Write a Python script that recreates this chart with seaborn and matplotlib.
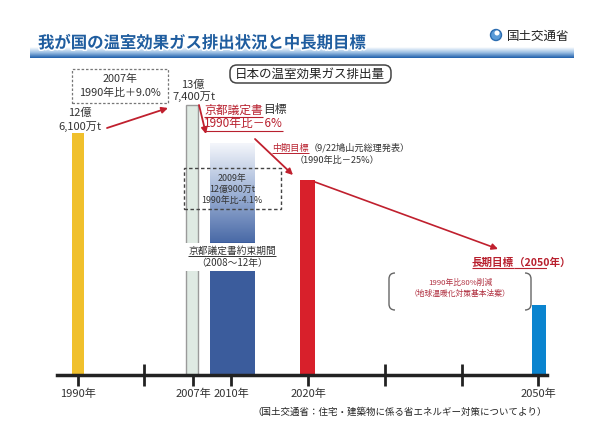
import numpy as np
import pandas as pd
import matplotlib
matplotlib.use("Agg")
import matplotlib.pyplot as plt
import seaborn as sns
from matplotlib.patches import Rectangle, FancyBboxPatch, Circle, PathPatch
from matplotlib.path import Path
from matplotlib.colors import LinearSegmentedColormap
import matplotlib.patheffects as pe

# ---------------- data ----------------
bar_years = ["1990", "2007", "2010", "2020", "2050"]
bar_pos = [78, 192, 232.5, 307.5, 539]          # schematic timeline positions
bar_widths = [12, 12, 45, 15, 14]
bar_heights = [242, 270, 232, 195, 70]          # schematic heights (not to scale)
bar_colors = ["#f0c02c", "#dfeae3", "#3b5c9c", "#d8202b", "#0a84cf"]

tick_pos = [78, 144, 193, 231, 308, 385, 462, 538]
tick_labels = ["1990年", "", "2007年", "2010年", "2020年", "", "", "2050年"]

title = "我が国の温室効果ガス排出状況と中長期目標"
subtitle = "日本の温室効果ガス排出量"
ministry = "国土交通省"
source = "（国土交通省：住宅・建築物に係る省エネルギー対策についてより）"

RED = "#b8202e"
DARK = "#333333"

sns.set_theme(style="white")
plt.rcParams["font.family"] = ["Noto Sans CJK JP", "DejaVu Sans"]

W, H = 610, 432
BASE = 375  # pixel row of the time axis

fig = plt.figure(figsize=(6.1, 4.32), dpi=100)
fig.patch.set_facecolor("white")

# header overlay axes (pixel coordinates)
hx = fig.add_axes([0, 0, 1, 1], zorder=0)
hx.set_xlim(0, W)
hx.set_ylim(H, 0)
hx.axis("off")

# main chart axes: x in pixels, y = BASE - pixel row
ax = fig.add_axes([57 / W, (H - BASE) / H, (547 - 57) / W, BASE / H], zorder=1)
ax.patch.set_alpha(0)
ax.set_xlim(57, 547)
ax.set_ylim(0, BASE)


def Y(py):
    return BASE - py


df = pd.DataFrame({"year": bar_years, "pos": bar_pos, "height": bar_heights})
sns.barplot(data=df, x="pos", y="height", hue="year", hue_order=bar_years,
            palette=bar_colors, native_scale=True, legend=False, ax=ax,
            saturation=1, width=0.5)
for p in ax.patches:
    cx = p.get_x() + p.get_width() / 2
    i = int(np.argmin([abs(cx - b) for b in bar_pos]))
    p.set_x(bar_pos[i] - bar_widths[i] / 2)
    p.set_width(bar_widths[i])
    p.set_height(bar_heights[i])
    p.set_zorder(2)
    if bar_years[i] == "2007":
        p.set_edgecolor("#9a9a9a")
        p.set_linewidth(1.0)
    else:
        p.set_edgecolor("none")

# gradient on top part of 2010 bar
i10 = bar_years.index("2010")
x0 = bar_pos[i10] - bar_widths[i10] / 2
x1 = bar_pos[i10] + bar_widths[i10] / 2
cmap = LinearSegmentedColormap.from_list("g", ["#4a6aa7", "#9fb3d6", "#f4f6fb"])
grad = np.linspace(0, 1, 200).reshape(-1, 1)
ax.imshow(grad, extent=[x0, x1, Y(242), bar_heights[i10]], origin="lower",
          cmap=cmap, aspect="auto", zorder=3)

# axis styling
for s in ["top", "right", "left"]:
    ax.spines[s].set_visible(False)
ax.spines["bottom"].set_linewidth(2.5)
ax.spines["bottom"].set_color("#222222")
ax.spines["bottom"].set_zorder(5)
ax.set_xticks(tick_pos)
ax.set_xticklabels(tick_labels)
ax.tick_params(axis="x", direction="inout", length=16, width=2, color="#222222",
               labelsize=8, labelcolor=DARK, pad=2, bottom=True)
ax.set_yticks([])
ax.set_xlabel("")
ax.set_ylabel("")

renderer = fig.canvas.get_renderer()


def ext(t):
    bb = t.get_window_extent(renderer)
    inv = ax.transData.inverted()
    (a0, b0) = inv.transform((bb.x0, bb.y0))
    (a1, b1) = inv.transform((bb.x1, bb.y1))
    return a0, b0, a1, b1


def underline(t, color, lw=0.8, off=-0.3):
    a0, b0, a1, b1 = ext(t)
    ax.plot([a0, a1], [b0 + off, b0 + off], color=color, lw=lw, zorder=8,
            solid_capstyle="butt")


def after(t, s, **kw):
    a0, b0, a1, b1 = ext(t)
    x, y = t.get_position()
    return ax.text(a1, y, s, ha="left", va=t.get_va(), **kw)


def arrow(p0, p1, lw=1.3):
    ax.annotate("", xy=(p1[0], Y(p1[1])), xytext=(p0[0], Y(p0[1])),
                arrowprops=dict(arrowstyle="-|>", color="#c0202e", lw=lw,
                                mutation_scale=9, shrinkA=0, shrinkB=0),
                zorder=9)


# ---------------- header ----------------
band = LinearSegmentedColormap.from_list("b", ["#ffffff", "#9cc0e4", "#1f5fab"])
hx.imshow(np.linspace(0, 1, 50).reshape(-1, 1), extent=[30, 574, 58, 47],
          cmap=band, aspect="auto", zorder=1)
hx.text(38, 43, title, ha="left", va="center", fontsize=11.8, fontweight="bold",
        color="#1f5d9f", zorder=3,
        path_effects=[pe.withStroke(linewidth=2.2, foreground="white")])
hx.add_patch(Circle((496, 35), 5.5, facecolor="#5a9bd8", edgecolor="#2b6cb0", lw=1, zorder=3))
hx.add_patch(Circle((497, 33), 2.5, facecolor="white", edgecolor="none", zorder=4))
hx.text(507, 36, ministry, ha="left", va="center", fontsize=9, color="#222222", zorder=3)

# subtitle rounded box
ax.add_patch(FancyBboxPatch((232, Y(81)), 157, 14, boxstyle="round,pad=2,rounding_size=7",
                            facecolor="white", edgecolor="#444444", lw=1.1, zorder=6))
ax.text(310, Y(74), subtitle, ha="center", va="center", fontsize=9, color="#222222", zorder=7)
fig.text(547 / W, 1 - 412 / H, source, ha="right", va="center", fontsize=6.8, color="#222222")

# ---------------- annotations ----------------
# 2007 dashed box
ax.add_patch(Rectangle((72, Y(103)), 96, 34, fill=False, ls=(0, (2, 1.5)),
                       edgecolor="#777777", lw=0.9, zorder=6))
ax.text(120, Y(79), "2007年", ha="center", va="center", fontsize=7.8, color=DARK, zorder=7)
ax.text(120, Y(93), "1990年比＋9.0%", ha="center", va="center", fontsize=7.8, color=DARK, zorder=7)

# 1990 value
ax.text(80, Y(113), "12億", ha="center", va="center", fontsize=8, color=DARK)
ax.text(80, Y(127), "6,100万t", ha="center", va="center", fontsize=8, color=DARK)
arrow((107, 128), (168, 108))

# 2007 value
ax.text(193, Y(85), "13億", ha="center", va="center", fontsize=8, color=DARK)
ax.text(194, Y(97), "7,400万t", ha="center", va="center", fontsize=8, color=DARK)
arrow((199, 105), (206, 134))

# Kyoto target
t1 = ax.text(204, Y(110), "京都議定書", ha="left", va="center", fontsize=8.5, color=RED, zorder=7)
underline(t1, RED)
after(t1, "目標", fontsize=8.5, color=DARK, zorder=7)
t2 = ax.text(204, Y(124), "1990年比－6%", ha="left", va="center", fontsize=8.5, color=RED, zorder=7)
underline(t2, RED)
arrow((255, 139), (293, 175))

# mid-term target
t3 = ax.text(272, Y(148), "中期目標", ha="left", va="center", fontsize=6.6, color=RED, zorder=7)
underline(t3, RED, lw=0.7)
after(t3, "（9/22鳩山元総理発表）", fontsize=6.6, color=DARK, zorder=7)
ax.text(337, Y(160), "（1990年比－25%）", ha="center", va="center", fontsize=6.6, color=DARK, zorder=7)

# 2009 dashed box
ax.add_patch(Rectangle((184, Y(209)), 97, 41, fill=False, ls=(0, (2.5, 1.8)),
                       edgecolor="#444444", lw=1.0, zorder=6))
ax.text(232, Y(178), "2009年", ha="center", va="center", fontsize=6.4, color=DARK, zorder=7)
ax.text(232, Y(189), "12億900万t", ha="center", va="center", fontsize=6.4, color=DARK, zorder=7)
ax.text(232, Y(200), "1990年比-4.1%", ha="center", va="center", fontsize=6.4, color=DARK, zorder=7)

# Kyoto commitment period label (white band over bars)
ax.add_patch(Rectangle((183, Y(271)), 102, 28, facecolor="white", edgecolor="none", zorder=6))
t4 = ax.text(232, Y(251), "京都議定書約束期間", ha="center", va="center", fontsize=7,
             color=DARK, zorder=7)
underline(t4, DARK, lw=0.7)
ax.text(232, Y(263), "（2008～12年）", ha="center", va="center", fontsize=7, color=DARK, zorder=7)

# long-term arrow
arrow((315, 182), (498, 249), lw=1.2)
t5 = ax.text(472, Y(263), "長期目標", ha="left", va="center", fontsize=7.6,
             fontweight="bold", color=RED, zorder=7)
underline(t5, RED)
t6 = after(t5, "（2050年）", fontsize=7.6, fontweight="bold", color=RED, zorder=7)
underline(t6, RED)

# bracket
def bracket(xe, xo, ytop, ybot):
    verts = [(xe, Y(ytop)), (xo, Y(ytop)), (xo, Y(ytop + 6)),
             (xo, Y(ybot - 6)), (xo, Y(ybot)), (xe, Y(ybot))]
    codes = [Path.MOVETO, Path.CURVE3, Path.CURVE3, Path.LINETO, Path.CURVE3, Path.CURVE3]
    ax.add_patch(PathPatch(Path(verts, codes), fill=False, edgecolor="#666666", lw=1.0, zorder=7))

bracket(395, 389, 273, 310)
bracket(525, 531, 273, 310)
ax.text(460, Y(283), "1990年比80%削減", ha="center", va="center", fontsize=5.6, color="#b03040", zorder=7)
ax.text(460, Y(294), "（地球温暖化対策基本法案）", ha="center", va="center", fontsize=5.6, color="#b03040", zorder=7)

fig.savefig("out.png", dpi=100)
